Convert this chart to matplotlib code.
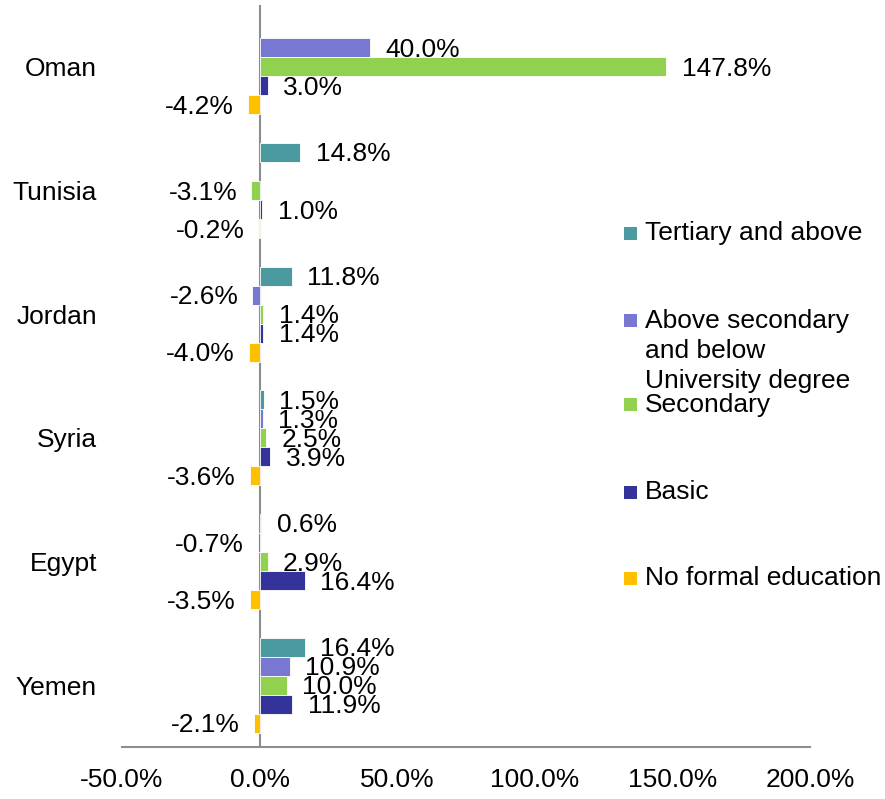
import numpy as np
import matplotlib
matplotlib.use("Agg")
import matplotlib.pyplot as plt
from matplotlib.patches import Rectangle

plt.rcParams['font.family'] = ['Liberation Sans', 'DejaVu Sans']

countries = ["Oman", "Tunisia", "Jordan", "Syria", "Egypt", "Yemen"]
series_names = ["Tertiary and above",
                "Above secondary\nand below\nUniversity degree",
                "Secondary", "Basic", "No formal education"]
tertiary = [np.nan, 14.8, 11.8, 1.5, 0.6, 16.4]
above_secondary = [40.0, np.nan, -2.6, 1.3, -0.7, 10.9]
secondary = [147.8, -3.1, 1.4, 2.5, 2.9, 10.0]
basic = [3.0, 1.0, 1.4, 3.9, 16.4, 11.9]
no_formal = [-4.2, -0.2, -4.0, -3.6, -3.5, -2.1]
series = [tertiary, above_secondary, secondary, basic, no_formal]
colors = ["#4A9A9F", "#7878D2", "#92D050", "#333399", "#FFC000"]
xticks = [-50, 0, 50, 100, 150, 200]

W, H = 885, 799
fig = plt.figure(figsize=(W / 100, H / 100), dpi=100)
ax = fig.add_axes([122 / W, 1 - 747 / H, (810 - 122) / W, (747 - 5) / H])

FS = 19
h = 0.154
y = np.arange(len(countries))
for k, (vals, c) in enumerate(zip(series, colors)):
    pos = y + (k - 2) * h
    v = np.array(vals, dtype=float)
    ax.barh(pos, v, height=h, color=c, edgecolor="white", linewidth=0.6, zorder=2)
    for yy, vv in zip(pos, v):
        if np.isnan(vv):
            continue
        off = 11 if vv >= 0 else -10
        ax.annotate(f"{vv:.1f}%", xy=(vv, yy), xytext=(off, -1.5),
                    textcoords="offset points", ha="left" if vv >= 0 else "right",
                    va="center", fontsize=FS, color="black", zorder=3)

ax.set_xlim(-50, 200)
ax.set_ylim(len(countries) - 0.5, -0.5)
ax.axvline(0, color="#8C8C8C", lw=1.5, zorder=1)
ax.set_xticks(xticks)
ax.set_xticklabels([f"{t:.1f}%" for t in xticks], fontsize=FS)
ax.set_yticks(y)
ax.set_yticklabels(countries, fontsize=FS)
ax.tick_params(axis="both", length=0)
ax.tick_params(axis="x", pad=15)
ax.tick_params(axis="y", pad=18)
for s in ["top", "right", "left"]:
    ax.spines[s].set_visible(False)
ax.spines["bottom"].set_color("#8C8C8C")
ax.spines["bottom"].set_linewidth(1.5)

# legend (manual, to mimic uneven spacing)
leg_y = [233, 351, 405, 492, 578]
sq_y = [233, 320, 404, 492, 578]
for name, c, ty, sy in zip(series_names, colors, leg_y, sq_y):
    fig.add_artist(Rectangle((624 / W, 1 - (sy + 6.5) / H), 13 / W, 13 / H,
                             transform=fig.transFigure, facecolor=c, edgecolor="none"))
    fig.text(645 / W, 1 - ty / H, name, fontsize=FS, ha="left", va="center",
             linespacing=1.32)

fig.savefig("out.png", dpi=100)
